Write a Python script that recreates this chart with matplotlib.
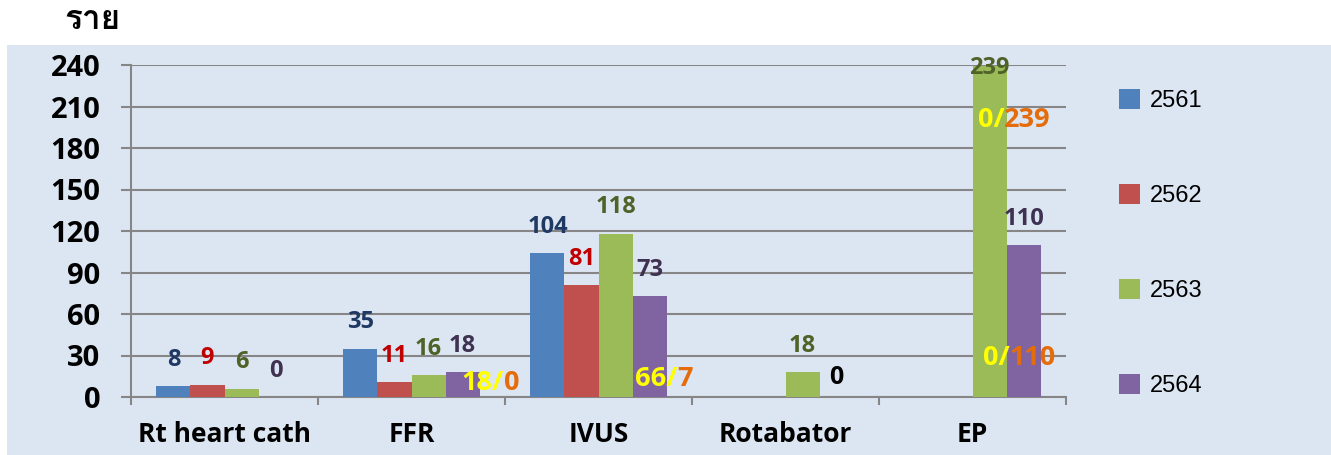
import matplotlib
matplotlib.use('Agg')
import matplotlib.pyplot as plt
from matplotlib import font_manager
from matplotlib.ft2font import FT2Font
from matplotlib.patches import Rectangle

categories = ['Rt heart cath', 'FFR', 'IVUS', 'Rotabator', 'EP']
years = ['2561', '2562', '2563', '2564']
v2561 = [8, 35, 104, 0, 0]
v2562 = [9, 11, 81, 0, 0]
v2563 = [6, 16, 118, 18, 239]
v2564 = [0, 18, 73, 0, 110]
# which bars carry a value label in the original
shown2561 = [True, True, True, False, False]
shown2562 = [True, True, True, False, False]
shown2563 = [True, True, True, True, True]
shown2564 = [True, True, True, False, True]
yticks = [0, 30, 60, 90, 120, 150, 180, 210, 240]
# hand-written notes: (left part, right part)
notes = [('18/', '0'), ('66/', '7'), ('0/', '239'), ('0/', '110'), ('', '0')]


def thai_font():
    for f in font_manager.fontManager.ttflist:
        try:
            if FT2Font(f.fname).get_char_index(ord('ร')):
                return f.name
        except Exception:
            pass
    return 'DejaVu Sans'


bar_colors = ['#4F81BD', '#C0504D', '#9BBB59', '#8064A2']
label_colors = ['#1F3864', '#C00000', '#4F6228', '#3F3151']
main_font = 'Open Sans'
lab_size = 17
note_size = 19.5

fig = plt.figure(figsize=(13.31, 4.55), dpi=100)
fig.patches.append(Rectangle((7 / 1331, 0), 1, 410 / 455, transform=fig.transFigure,
                             facecolor='#DCE6F2', edgecolor='none', zorder=-10))
ax = fig.add_axes([131 / 1331, 1 - 397 / 455, 935 / 1331, 332 / 455])
ax.set_facecolor('none')

w = 0.182
series = [v2561, v2562, v2563, v2564]
shown = [shown2561, shown2562, shown2563, shown2564]
for s, vals in enumerate(series):
    xs = [i + (s - 1.5) * w for i in range(len(categories))]
    ax.bar(xs, vals, width=w, color=bar_colors[s], label=years[s], zorder=3)
    for x, v, ok in zip(xs, vals, shown[s]):
        if ok:
            ax.text(x, min(v + 19, 238), str(v), ha='center', va='center',
                    fontsize=lab_size, fontweight='bold', family=main_font,
                    color=label_colors[s], zorder=5)

# note positions (left edge of each note)
note_pos = [(1.268, 10), (2.193, 13), (4.027, 200), (4.054, 28), (3.233, 14)]
for (a, b), (x, y) in zip(notes, note_pos):
    if a:
        t = ax.text(x, y, a, ha='left', va='center', fontsize=note_size, fontweight='bold',
                    family=main_font, color='#FFFF00', zorder=6)
        ax.annotate(b, xy=(1, 0.5), xycoords=t, ha='left', va='center', fontsize=note_size,
                    fontweight='bold', family=main_font, color='#E46C0A', zorder=6)
    else:
        ax.text(x, y, b, ha='left', va='center', fontsize=lab_size + 1, fontweight='bold',
                family=main_font, color='black', zorder=6)

ax.set_xlim(-0.5, len(categories) - 0.5)
ax.set_ylim(0, 240)
ax.set_yticks(yticks)
ax.set_yticklabels([str(t) for t in yticks], fontsize=21, fontweight='bold',
                   family=main_font, fontstretch='normal')
ax.set_xticks(range(len(categories)))
ax.set_xticklabels(categories, fontsize=19, fontweight='bold', family=main_font,
                   fontstretch='normal')
ax.set_xticks([i - 0.5 for i in range(len(categories) + 1)], minor=True)
ax.tick_params(axis='x', which='major', length=0, pad=17)
ax.tick_params(axis='x', which='minor', length=6, width=1.5, color='#868686', direction='out')
ax.tick_params(axis='y', length=7, width=1.5, color='#868686', pad=15)
ax.grid(axis='y', color='#868686', linewidth=1.5, zorder=0)
ax.set_axisbelow(True)
for side in ['top', 'right']:
    ax.spines[side].set_visible(False)
for side in ['left', 'bottom']:
    ax.spines[side].set_color('#868686')
    ax.spines[side].set_linewidth(1.5)

fig.legend(loc='center left', bbox_to_anchor=(1107 / 1331, 1 - 243 / 455), frameon=False,
           prop={'family': 'Liberation Sans', 'size': 17}, labelspacing=3.05,
           handlelength=0.9, handleheight=0.9, handletextpad=0.4, borderpad=0)

fig.text(92 / 1331, 1 - 20 / 455, 'ราย', ha='center', va='center', fontsize=24,
         fontweight='bold', family=[thai_font(), 'DejaVu Sans'])

fig.savefig('out.png', dpi=100)
plt.close()
